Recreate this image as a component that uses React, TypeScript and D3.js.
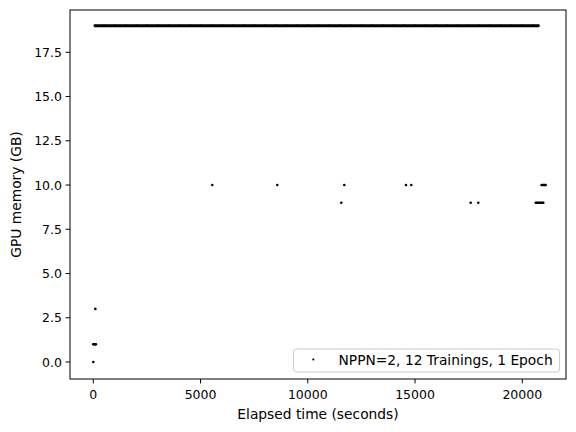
import React from "react";
import * as d3 from "d3";

// Data (elapsed seconds at each GPU memory level, GB)
const timesAt19: number[] = [80, 500, 1000, 1500, 2000, 2500, 3000, 3500, 4000, 4500, 5000, 5500, 6000, 6500, 7000, 7500, 8000, 8500, 9000, 9500, 10000, 10500, 11000, 11500, 12000, 12500, 13000, 13500, 14000, 14500, 15000, 15500, 16000, 16500, 17000, 17500, 18000, 18500, 19000, 19500, 20000, 20500, 20746];
const timesAt10: number[] = [5548, 8578, 11702, 14578, 14825, 20900, 20950, 21000, 21050, 21090];
const timesAt9: number[] = [11562, 17594, 17949, 20625, 20680, 20740, 20800, 20860, 20920, 20979];
const timesAt3: number[] = [95];
const timesAt1: number[] = [0, 30, 60, 90, 120];
const timesAt0: number[] = [0];

const xTicks: number[] = [0, 5000, 10000, 15000, 20000];
const yTicks: number[] = [0, 2.5, 5, 7.5, 10, 12.5, 15, 17.5];
const legendLabel = "NPPN=2, 12 Trainings, 1 Epoch";
const xLabel = "Elapsed time (seconds)";
const yLabel = "GPU memory (GB)";

export default function App() {
  const W = 576, H = 432;
  const L = 70, R = 566, T = 10, B = 379;
  const x = d3.scaleLinear().domain([-1086, 22038]).range([L, R]);
  const y = d3.scaleLinear().domain([-0.96, 19.89]).range([B, T]);
  const font = "DejaVu Sans, sans-serif";
  const fs = 12.5;
  const fsL = 13.8;

  const pts: [number, number][] = [];
  const add = (arr: number[], v: number) => arr.forEach((t) => pts.push([t, v]));
  add(timesAt10, 10);
  add(timesAt9, 9);
  add(timesAt3, 3);
  add(timesAt1, 1);
  add(timesAt0, 0);
  add(timesAt19, 19);

  const line19 = d3
    .line<number>()
    .x((t) => x(t))
    .y(() => y(19))(timesAt19);

  const r = 1.3;

  return (
    <svg width={W} height={H} style={{ position: "fixed", left: 0, top: 0, background: "#fff" }} fontFamily={font}>
      <rect x={0} y={0} width={W} height={H} fill="#fff" />
      {/* dense samples at 19 GB */}
      <path d={line19 || ""} stroke="#000" strokeWidth={2.8} fill="none" strokeLinecap="round" />
      {pts.map(([t, v], i) => (
        <circle key={i} cx={x(t)} cy={y(v)} r={r} fill="#000" />
      ))}
      {/* axes frame */}
      <rect x={L} y={T} width={R - L} height={B - T} fill="none" stroke="#000" strokeWidth={1} />
      {/* x ticks */}
      {xTicks.map((t) => (
        <g key={"x" + t}>
          <line x1={x(t)} x2={x(t)} y1={B} y2={B + 4.4} stroke="#000" strokeWidth={1} />
          <text x={x(t)} y={B + 20} fontSize={fs} textAnchor="middle" fill="#000">
            {t}
          </text>
        </g>
      ))}
      {/* y ticks */}
      {yTicks.map((t) => (
        <g key={"y" + t}>
          <line x1={L - 4.4} x2={L} y1={y(t)} y2={y(t)} stroke="#000" strokeWidth={1} />
          <text x={L - 8} y={y(t)} dy="0.36em" fontSize={fs} textAnchor="end" fill="#000">
            {t.toFixed(1)}
          </text>
        </g>
      ))}
      <text x={(L + R) / 2} y={419} fontSize={fsL} textAnchor="middle" fill="#000">
        {xLabel}
      </text>
      <text
        transform={`translate(21,${(T + B) / 2}) rotate(-90)`}
        fontSize={fsL}
        textAnchor="middle"
        fill="#000"
      >
        {yLabel}
      </text>
      {/* legend */}
      <rect x={293.5} y={349} width={266} height={23} rx={3} fill="#fff" fillOpacity={0.8} stroke="#ccc" strokeWidth={1} />
      <circle cx={313.3} cy={359.5} r={1.1} fill="#000" />
      <text x={338.5} y={365} fontSize={fsL} fill="#000">
        {legendLabel}
      </text>
    </svg>
  );
}
